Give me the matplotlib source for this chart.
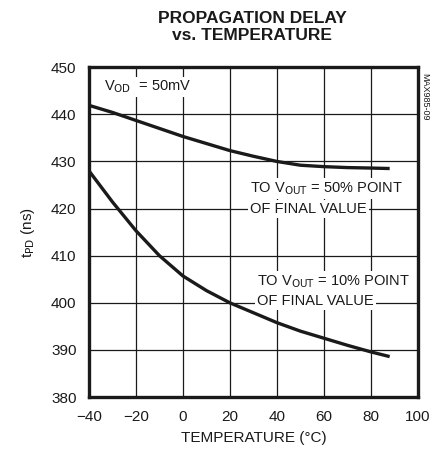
import matplotlib.pyplot as plt

plt.rcParams['font.family'] = ['Liberation Sans', 'DejaVu Sans']

temp = [-40, -30, -20, -10, 0, 10, 20, 30, 40, 50, 60, 70, 80, 88]
tpd_50 = [441.9, 440.4, 438.7, 437.0, 435.3, 433.8, 432.3, 431.1, 430.0, 429.2, 428.9, 428.7, 428.6, 428.5]
tpd_10 = [428.0, 421.4, 415.3, 410.0, 405.7, 402.6, 400.0, 397.9, 395.8, 394.0, 392.5, 391.0, 389.6, 388.6]

xticks = [-40, -20, 0, 20, 40, 60, 80, 100]
yticks = [380, 390, 400, 410, 420, 430, 440, 450]

fig = plt.figure(figsize=(4.31, 4.57), dpi=100)
ax = fig.add_axes([0.2065, 0.131, 0.763, 0.722])

ink = '#1a1a1a'
ax.plot(temp, tpd_50, color=ink, lw=2.4, solid_joinstyle='round', solid_capstyle='butt', zorder=3)
ax.plot(temp, tpd_10, color=ink, lw=2.4, solid_joinstyle='round', solid_capstyle='butt', zorder=3)

ax.set_xlim(-40, 100)
ax.set_ylim(380, 450)
ax.set_xticks(xticks)
ax.set_yticks(yticks)
ax.grid(True, color=ink, lw=0.9)
ax.tick_params(length=0, labelsize=11, pad=9, colors=ink)
for s in ax.spines.values():
    s.set_linewidth(2.4)
    s.set_color(ink)

ax.set_xlabel('TEMPERATURE (°C)', fontsize=11, color=ink, labelpad=5)
ax.set_ylabel('t$_{\\mathrm{PD}}$ (ns)', fontsize=11, color=ink, labelpad=10)

fig.text(0.585, 0.975, 'PROPAGATION DELAY\nvs. TEMPERATURE', ha='center', va='top',
         fontsize=12.5, fontweight='bold', color=ink, linespacing=1.15)
fig.text(0.985, 0.84, 'MAX985-09', rotation=270, ha='center', va='top', fontsize=6.5,
         color=ink)

box = dict(facecolor='white', edgecolor='none', pad=1.5)
kw = dict(fontsize=10.5, color=ink, bbox=box, zorder=4, va='center')
ax.text(-33.6, 445.8, 'V$_{\\mathrm{OD}}$  = 50mV', **kw)
ax.text(28.5, 424.3, 'TO V$_{\\mathrm{OUT}}$ = 50% POINT', **kw)
ax.text(28.5, 420.0, 'OF FINAL VALUE', **kw)
ax.text(31.5, 404.6, 'TO V$_{\\mathrm{OUT}}$ = 10% POINT', **kw)
ax.text(31.5, 400.5, 'OF FINAL VALUE', **kw)

fig.savefig('out.png', dpi=100)
